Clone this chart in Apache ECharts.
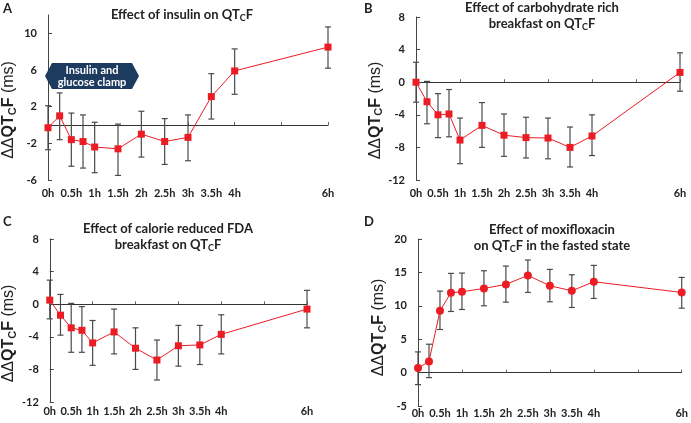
<!DOCTYPE html>
<html>
<head>
<meta charset="utf-8">
<script src="https://cdn.jsdelivr.net/npm/echarts@6/dist/echarts.min.js"></script>
<style>
html,body{margin:0;padding:0;background:#fff;}
#chart{width:691px;height:423px;}
</style>
</head>
<body>
<div id="chart"></div>
<script>
// ---- data ----
const hours = [0, 0.25, 0.5, 0.75, 1, 1.5, 2, 2.5, 3, 3.5, 4, 6];
const xLabelValues = [0, 0.5, 1, 1.5, 2, 2.5, 3, 3.5, 4, 6];

const insulinMean  = [-0.3, 1.0, -1.6, -1.8, -2.4, -2.6, -1.0, -1.8, -1.35, 3.1, 5.9, 8.5];
const insulinUpper = [2.1, 3.5, 1.3, 1.1, 0.3, 0.1, 1.5, 0.7, 1.1, 5.6, 8.3, 10.7];
const insulinLower = [-2.7, -1.6, -4.5, -4.7, -5.2, -5.5, -3.5, -4.3, -3.9, 0.65, 3.35, 6.2];

const carbMean  = [0, -2.4, -4.0, -3.9, -7.1, -5.3, -6.5, -6.8, -6.85, -8.0, -6.6, 1.2];
const carbUpper = [2.45, 0.1, -1.4, -0.9, -4.4, -2.5, -3.9, -4.3, -4.4, -5.5, -4.0, 3.6];
const carbLower = [-2.45, -5.1, -6.8, -6.7, -10.0, -8.0, -9.1, -9.3, -9.4, -10.4, -9.0, -1.1];

const fdaMean  = [0.5, -1.35, -2.9, -3.2, -4.75, -3.4, -5.4, -6.85, -5.1, -5.0, -3.7, -0.6];
const fdaUpper = [2.95, 1.2, 0.1, -0.3, -2.0, -0.6, -2.9, -4.4, -2.6, -2.6, -1.3, 1.7];
const fdaLower = [-1.8, -3.8, -5.9, -5.9, -7.5, -6.1, -8.0, -9.3, -7.6, -7.4, -6.1, -2.9];

const moxiMean  = [0.7, 1.65, 9.25, 11.95, 12.1, 12.6, 13.2, 14.55, 13.0, 12.25, 13.6, 12.0];
const moxiUpper = [3.1, 4.25, 12.2, 14.85, 14.9, 15.25, 15.95, 16.85, 15.45, 14.65, 16.05, 14.25];
const moxiLower = [-1.8, -0.75, 6.45, 9.15, 9.45, 10.0, 10.55, 12.0, 10.6, 9.75, 11.1, 9.65];

const yTicksA = [-6, -2, 2, 6, 10];
const yTicksBC = [-12, -8, -4, 0, 4, 8];
const yTicksD = [-5, 0, 5, 10, 15, 20];

// ---- styling ----
const RED = '#ec1c24';
const AXIS = '#444';
const FONT = 'Lato, "Open Sans", sans-serif';
const NAMEFONT = '"Liberation Sans", Arial, sans-serif';

const panels = [
  {grid:{left:45, top:15, width:283, height:165}, ymin:-6, ymax:12, yTicks:yTicksA,
   mean:insulinMean, up:insulinUpper, lo:insulinLower, symbol:'rect', xMargin:8, nameShift:25},
  {grid:{left:416, top:17, width:264, height:163}, ymin:-12, ymax:8, yTicks:yTicksBC,
   mean:carbMean, up:carbUpper, lo:carbLower, symbol:'rect', xMargin:8, nameShift:24},
  {grid:{left:45, top:239, width:262, height:163}, ymin:-12, ymax:8, yTicks:yTicksBC,
   mean:fdaMean, up:fdaUpper, lo:fdaLower, symbol:'rect', xMargin:4, nameShift:26},
  {grid:{left:418, top:239, width:266, height:167}, ymin:-5, ymax:20, yTicks:yTicksD,
   mean:moxiMean, up:moxiUpper, lo:moxiLower, symbol:'circle', xMargin:2, nameShift:10}
];

const grids = [], xAxes = [], yAxes = [], series = [];
panels.forEach((p, k) => {
  grids.push(p.grid);
  // label axis at the bottom
  xAxes.push({
    type:'value', gridIndex:k, min:0, max:6, position:'bottom',
    axisLine:{show:false, onZero:false}, axisTick:{show:false}, splitLine:{show:false},
    axisLabel:{customValues:xLabelValues, formatter:v => v + 'h', margin:p.xMargin,
      fontFamily:FONT, fontWeight:'bold', fontSize:11, color:'#222'}
  });
  // zero line with upward ticks
  xAxes.push({
    type:'value', gridIndex:k, min:0, max:6, interval:1, position:'bottom',
    axisLine:{show:true, onZero:true, lineStyle:{color:'#333', width:1}},
    axisTick:{show:true, inside:true, length:3, lineStyle:{color:'#666'}},
    axisLabel:{show:false}, splitLine:{show:false}
  });
  yAxes.push({
    type:'value', gridIndex:k, min:p.ymin, max:p.ymax,
    axisLine:{show:true, onZero:false, lineStyle:{color:AXIS, width:1}},
    axisTick:{show:true, inside:true, length:4, customValues:p.yTicks, lineStyle:{color:AXIS}},
    axisLabel:{customValues:p.yTicks, margin:11, fontFamily:FONT, fontWeight:'bold', fontSize:11, color:'#222'},
    splitLine:{show:false},
    name:'{a|ΔΔ}{b|QT}{s|C}{b|F}{a| (ms)}', nameLocation:'middle', nameGap:30,
    nameTextStyle:{padding:[0, p.nameShift, 0, 0], rich:{
      a:{fontFamily:NAMEFONT, fontSize:16, color:'#222', lineHeight:18},
      b:{fontFamily:NAMEFONT, fontSize:16, fontWeight:'bold', color:'#222', lineHeight:18},
      s:{fontFamily:NAMEFONT, fontSize:11, fontWeight:'bold', color:'#222', lineHeight:12, verticalAlign:'bottom'}
    }}
  });
  series.push({
    type:'custom', xAxisIndex:2*k, yAxisIndex:k, silent:true, z:1,
    data: hours.map((h, i) => [h, p.lo[i], p.up[i]]),
    encode:{x:0, y:[1, 2]},
    renderItem:(params, api) => {
      const x = api.value(0);
      const a = api.coord([x, api.value(1)]);
      const b = api.coord([x, api.value(2)]);
      const w = 3;
      const st = {stroke:'#4a4a4a', lineWidth:1.2, fill:null};
      return {type:'group', children:[
        {type:'line', shape:{x1:a[0], y1:a[1], x2:b[0], y2:b[1]}, style:st},
        {type:'line', shape:{x1:a[0]-w, y1:a[1], x2:a[0]+w, y2:a[1]}, style:st},
        {type:'line', shape:{x1:b[0]-w, y1:b[1], x2:b[0]+w, y2:b[1]}, style:st}
      ]};
    }
  });
  series.push({
    type:'line', xAxisIndex:2*k, yAxisIndex:k, z:3,
    data: hours.map((h, i) => [h, p.mean[i]]),
    symbol:p.symbol, symbolSize:p.symbol === 'circle' ? 8 : 7, showSymbol:true,
    itemStyle:{color:RED}, lineStyle:{color:RED, width:1}
  });
});

const titleRich = {
  b:{fontFamily:FONT, fontWeight:'bold', fontSize:13, color:'#222', lineHeight:16},
  s:{fontFamily:FONT, fontWeight:'bold', fontSize:9, color:'#222', lineHeight:10, verticalAlign:'bottom'}
};
const letterStyle = {fontFamily:FONT, fontWeight:'bold', fontSize:13, color:'#222'};

const titles = [
  {text:'{b|Effect of insulin on QT}{s|C}{b|F}', left:182, top:7},
  {text:'{b|Effect of carbohydrate rich}\n{b|breakfast on QT}{s|C}{b|F}', left:542, top:0},
  {text:'{b|Effect of calorie reduced FDA}\n{b|breakfast on QT}{s|C}{b|F}', left:168, top:221},
  {text:'{b|Effect of moxifloxacin}\n{b|on QT}{s|C}{b|F in the fasted state}', left:552, top:222}
].map(t => Object.assign(t, {textAlign:'center', padding:0, textStyle:{rich:titleRich}}));

const letters = [
  {text:'A', left:3, top:2}, {text:'B', left:364, top:2},
  {text:'C', left:3, top:215}, {text:'D', left:364, top:215}
].map(t => Object.assign(t, {padding:0, textStyle:letterStyle}));

const chart = echarts.init(document.getElementById('chart'), null, {renderer:'canvas'});
chart.setOption({
  animation:false,
  backgroundColor:'#fff',
  title: titles.concat(letters),
  grid: grids,
  xAxis: xAxes,
  yAxis: yAxes,
  series: series,
  graphic: [
    {type:'polygon', z:10,
     shape:{points:[[45,76],[52,63],[132,63],[139,76],[132,89],[52,89]]},
     style:{fill:'#1d3a5f', stroke:null}},
    {type:'text', z:11, x:92, y:76,
     style:{text:'Insulin and\nglucose clamp', fill:'#fff', align:'center', verticalAlign:'middle',
       font:'bold 11px ' + FONT, lineHeight:12}}
  ]
});
</script>
</body>
</html>
